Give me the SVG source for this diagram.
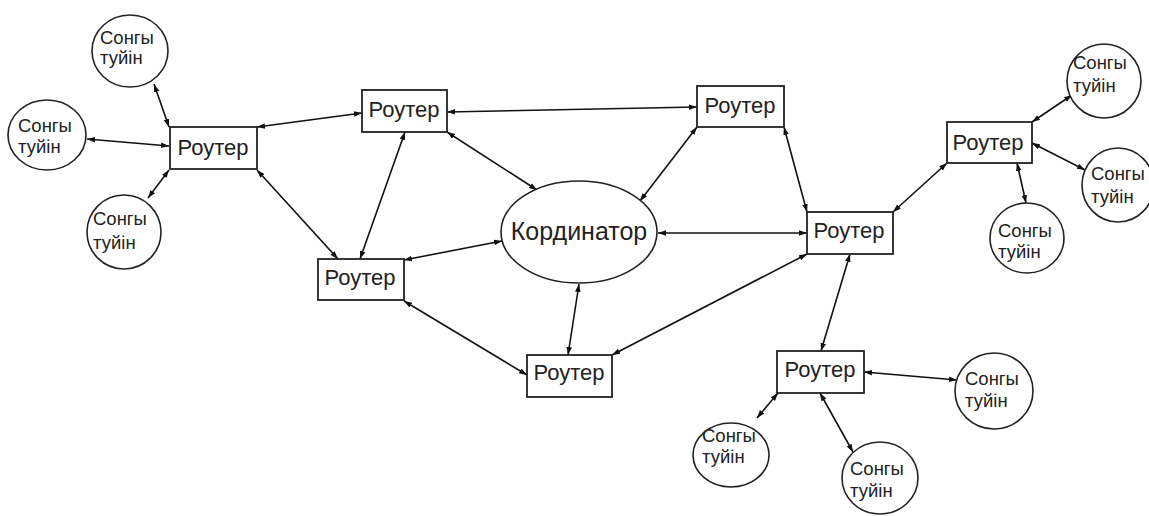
<svg xmlns="http://www.w3.org/2000/svg" width="1149" height="516" viewBox="0 0 1149 516">
<style>
.bg{fill:#fff}
.c{stroke:#111;stroke-width:1.6;fill:none;marker-start:url(#a);marker-end:url(#a)}
.box{fill:#fff;stroke:#222;stroke-width:1.8}
.ell{fill:#fff;stroke:#222;stroke-width:1.6}
.rt{font-family:"Liberation Sans",Arial,sans-serif;font-size:22px;fill:#222;text-anchor:middle}
.ct{font-family:"Liberation Sans",Arial,sans-serif;font-size:18.5px;fill:#222}
.kt{font-family:"Liberation Sans",Arial,sans-serif;font-size:25px;fill:#222;text-anchor:middle}
</style>
<defs>
<marker id="a" viewBox="0 0 10 10" refX="10" refY="5" markerWidth="8" markerHeight="8" markerUnits="userSpaceOnUse" orient="auto-start-reverse">
<path d="M0,1.5 L10,5 L0,8.5 z" fill="#111"/>
</marker>
</defs>
<rect class="bg" x="0" y="0" width="1149" height="516"/>
<g id="connectors">
<line class="c" x1="154" y1="84" x2="169" y2="127"/>
<line class="c" x1="87" y1="139" x2="169" y2="146"/>
<line class="c" x1="148" y1="198" x2="169" y2="170"/>
<line class="c" x1="257" y1="127" x2="362" y2="113"/>
<line class="c" x1="257" y1="170" x2="338" y2="259"/>
<line class="c" x1="447" y1="112" x2="697" y2="107"/>
<line class="c" x1="447" y1="132" x2="537" y2="190"/>
<line class="c" x1="405" y1="132" x2="360" y2="259"/>
<line class="c" x1="404" y1="260" x2="502" y2="241"/>
<line class="c" x1="404" y1="301" x2="527" y2="375"/>
<line class="c" x1="579" y1="284" x2="568" y2="355"/>
<line class="c" x1="697" y1="127" x2="640" y2="201"/>
<line class="c" x1="784" y1="127" x2="807" y2="212"/>
<line class="c" x1="658" y1="233" x2="807" y2="233"/>
<line class="c" x1="807" y1="254" x2="612" y2="355"/>
<line class="c" x1="893" y1="212" x2="947" y2="163"/>
<line class="c" x1="850" y1="254" x2="821" y2="351"/>
<line class="c" x1="1032" y1="122" x2="1072" y2="95"/>
<line class="c" x1="1032" y1="143" x2="1085" y2="170"/>
<line class="c" x1="1017" y1="163" x2="1026" y2="203"/>
<line class="c" x1="864" y1="372" x2="957" y2="380"/>
<line class="c" x1="778" y1="393" x2="757" y2="418"/>
<line class="c" x1="820" y1="393" x2="853" y2="452"/>
</g>
<g id="coordinator">
<ellipse class="ell" cx="579" cy="232" rx="78" ry="51"/>
<text class="kt" x="579" y="240">Кординатор</text>
</g>
<g id="router1"><rect class="box" x="170" y="127" width="87" height="42"/><text class="rt" x="213" y="155">Роутер</text></g>
<g id="router2"><rect class="box" x="362" y="90" width="85" height="42"/><text class="rt" x="404" y="117">Роутер</text></g>
<g id="router3"><rect class="box" x="318" y="259" width="86" height="41"/><text class="rt" x="360" y="285">Роутер</text></g>
<g id="router4"><rect class="box" x="697" y="86" width="87" height="41"/><text class="rt" x="740" y="113">Роутер</text></g>
<g id="router5"><rect class="box" x="807" y="212" width="86" height="42"/><text class="rt" x="849" y="238">Роутер</text></g>
<g id="router6"><rect class="box" x="527" y="355" width="85" height="42"/><text class="rt" x="569" y="380">Роутер</text></g>
<g id="router7"><rect class="box" x="947" y="122" width="85" height="41"/><text class="rt" x="988" y="150">Роутер</text></g>
<g id="router8"><rect class="box" x="777" y="351" width="87" height="42"/><text class="rt" x="820" y="377">Роутер</text></g>
<g id="end1"><ellipse class="ell" cx="130" cy="51" rx="38" ry="36"/><text class="ct" x="100" y="44">Сонгы</text><text class="ct" x="100" y="64">туйін</text></g>
<g id="end2"><ellipse class="ell" cx="47" cy="135" rx="39" ry="35"/><text class="ct" x="18" y="132">Сонгы</text><text class="ct" x="18" y="153">туйін</text></g>
<g id="end3"><ellipse class="ell" cx="124" cy="232" rx="37" ry="37"/><text class="ct" x="93" y="225">Сонгы</text><text class="ct" x="93" y="249">туйін</text></g>
<g id="end4"><ellipse class="ell" cx="1104" cy="81" rx="37" ry="37"/><text class="ct" x="1073" y="69">Сонгы</text><text class="ct" x="1073" y="92">туйін</text></g>
<g id="end5"><ellipse class="ell" cx="1118" cy="185" rx="36" ry="37"/><text class="ct" x="1091" y="180">Сонгы</text><text class="ct" x="1091" y="203">туйін</text></g>
<g id="end6"><ellipse class="ell" cx="1027" cy="238" rx="37" ry="35"/><text class="ct" x="998" y="237">Сонгы</text><text class="ct" x="998" y="258">туйін</text></g>
<g id="end7"><ellipse class="ell" cx="994" cy="391" rx="39" ry="38"/><text class="ct" x="965" y="385">Сонгы</text><text class="ct" x="965" y="407">туйін</text></g>
<g id="end8"><ellipse class="ell" cx="731" cy="455" rx="38" ry="32"/><text class="ct" x="702" y="442">Сонгы</text><text class="ct" x="702" y="463">туйін</text></g>
<g id="end9"><ellipse class="ell" cx="880" cy="478" rx="38" ry="36"/><text class="ct" x="850" y="475">Сонгы</text><text class="ct" x="850" y="497">туйін</text></g>
</svg>
